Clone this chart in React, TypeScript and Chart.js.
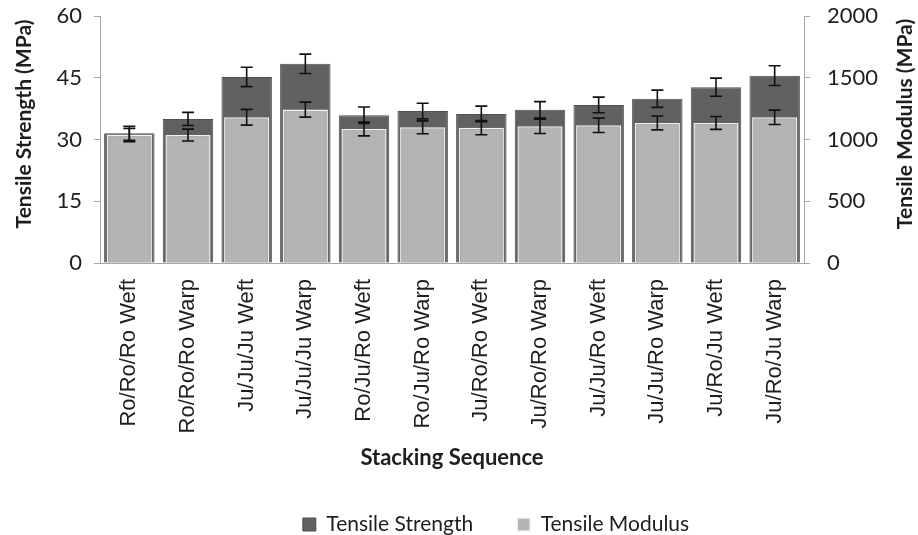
import React, { useEffect, useRef } from "react";
import { Chart, registerables } from "chart.js";

Chart.register(...registerables);

const categories = [
  "Ro/Ro/Ro Weft",
  "Ro/Ro/Ro Warp",
  "Ju/Ju/Ju Weft",
  "Ju/Ju/Ju Warp",
  "Ro/Ju/Ro Weft",
  "Ro/Ju/Ro Warp",
  "Ju/Ro/Ro Weft",
  "Ju/Ro/Ro Warp",
  "Ju/Ju/Ro Weft",
  "Ju/Ju/Ro Warp",
  "Ju/Ro/Ju Weft",
  "Ju/Ro/Ju Warp",
];
const strength = [31.5, 35.0, 45.2, 48.4, 35.9, 36.9, 36.2, 37.2, 38.4, 39.9, 42.7, 45.5];
const strengthErr = [1.7, 1.6, 2.35, 2.35, 2.0, 1.9, 1.9, 2.0, 1.9, 2.1, 2.2, 2.4];
const modulus = [1036, 1036, 1180, 1242, 1085, 1099, 1096, 1107, 1115, 1134, 1134, 1180];
const modulusErr = [53, 48, 64, 61, 56, 52, 57, 58, 58, 56, 52, 58];
const leftTicks = [0, 15, 30, 45, 60];
const rightTicks = [0, 500, 1000, 1500, 2000];
const leftTitle = "Tensile Strength (MPa)";
const rightTitle = "Tensile Modulus (MPa)";
const xTitle = "Stacking Sequence";

const FONT = "Lato, 'Open Sans', sans-serif";
const LABEL_FONT = "'Liberation Sans', Arial, sans-serif";
const AXIS_COLOR = "#a6a6a6";
const TEXT = "#1e1e1e";

const errorBarPlugin = {
  id: "errorBars",
  afterDatasetsDraw(chart: any) {
    const ctx = chart.ctx;
    const sets: [number[], number[], any, number][] = [
      [strength, strengthErr, chart.scales.y, 0],
      [modulus, modulusErr, chart.scales.y2, 1],
    ];
    ctx.save();
    ctx.strokeStyle = "#111111";
    ctx.lineWidth = 1.6;
    for (const [vals, errs, sc, di] of sets) {
      const meta = chart.getDatasetMeta(di);
      vals.forEach((v, i) => {
        const cx = meta.data[i].x;
        const top = sc.getPixelForValue(v + errs[i]);
        const bot = sc.getPixelForValue(v - errs[i]);
        ctx.beginPath();
        ctx.moveTo(cx, top);
        ctx.lineTo(cx, bot);
        ctx.moveTo(cx - 6, top);
        ctx.lineTo(cx + 6, top);
        ctx.moveTo(cx - 6, bot);
        ctx.lineTo(cx + 6, bot);
        ctx.stroke();
      });
    }
    ctx.restore();
  },
};

const axisTitlePlugin = {
  id: "axisTitles",
  afterLayout(chart: any) {
    if (chart.legend) {
      chart.legend.left += 37;
      chart.legend.right += 37;
    }
  },
  afterDraw(chart: any) {
    const ctx = chart.ctx;
    const cy = 124;
    const draw = (text: string, x: number) => {
      ctx.save();
      ctx.fillStyle = TEXT;
      ctx.font = `bold 21px ${FONT}`;
      ctx.textAlign = "center";
      ctx.textBaseline = "middle";
      ctx.translate(x, cy);
      ctx.rotate(-Math.PI / 2);
      ctx.fillText(text, 0, 0);
      ctx.restore();
    };
    draw(leftTitle, 24);
    draw(rightTitle, 905);
  },
};

export default function App() {
  const ref = useRef<HTMLCanvasElement | null>(null);
  useEffect(() => {
    if (!ref.current) return;
    const chart = new Chart(ref.current, {
      type: "bar",
      data: {
        labels: categories,
        datasets: [
          {
            label: "Tensile Strength",
            data: strength,
            yAxisID: "y",
            backgroundColor: "#616161",
            borderColor: "#505050",
            borderWidth: 1,
            grouped: false,
            barPercentage: 0.86,
            categoryPercentage: 1,
            order: 2,
          },
          {
            label: "Tensile Modulus",
            data: modulus,
            yAxisID: "y2",
            backgroundColor: "#b4b4b4",
            borderColor: "#f2f2f2",
            borderWidth: 1.5,
            grouped: false,
            barPercentage: 0.77,
            categoryPercentage: 1,
            order: 1,
          },
        ],
      },
      options: {
        animation: false,
        responsive: false,
        maintainAspectRatio: false,
        layout: { padding: { top: 16, bottom: -10, left: 0, right: 0 } },
        plugins: {
          tooltip: { enabled: false },
          legend: {
            position: "bottom",
            labels: {
              sort: (a: any, b: any) => a.datasetIndex - b.datasetIndex,
              boxWidth: 13,
              boxHeight: 13,
              padding: 44,
              color: TEXT,
              font: { family: FONT, size: 21 },
            },
          },
        },
        scales: {
          x: {
            grid: { display: false },
            border: { display: true, color: AXIS_COLOR },
            ticks: {
              minRotation: 90,
              maxRotation: 90,
              autoSkip: false,
              color: TEXT,
              padding: 8,
              font: { family: LABEL_FONT, size: 22 },
            },
            title: {
              display: true,
              text: xTitle,
              color: TEXT,
              font: { family: FONT, size: 22, weight: "bold" },
              padding: { top: 0, bottom: -1 },
            },
            afterFit: (s: any) => {
              const lh = s.chart.legend ? s.chart.legend.height : 0;
              s.height = s.chart.height + 10 - lh - 263;
              s.paddingLeft = 0;
              s.paddingRight = 0;
            },
          },
          y: {
            position: "left",
            min: 0,
            max: 60,
            afterBuildTicks: (s: any) => {
              s.ticks = leftTicks.map((v) => ({ value: v }));
            },
            grid: { drawOnChartArea: false, color: AXIS_COLOR, tickLength: 6 },
            border: { display: true, color: AXIS_COLOR },
            ticks: {
              color: TEXT,
              padding: 12,
              font: { family: FONT, size: 22 },
              callback: (v: any) => String(v),
            },
            afterFit: (s: any) => {
              s.width = 100;
              s.paddingTop = 0;
              s.paddingBottom = 0;
            },
          },
          y2: {
            position: "right",
            min: 0,
            max: 2000,
            afterBuildTicks: (s: any) => {
              s.ticks = rightTicks.map((v) => ({ value: v }));
            },
            grid: { drawOnChartArea: false, color: AXIS_COLOR, tickLength: 6 },
            border: { display: true, color: AXIS_COLOR },
            ticks: {
              color: TEXT,
              padding: 17,
              font: { family: FONT, size: 22 },
              callback: (v: any) => String(v),
            },
            afterFit: (s: any) => {
              s.width = 114;
              s.paddingTop = 0;
              s.paddingBottom = 0;
            },
          },
        },
      },
      plugins: [errorBarPlugin, axisTitlePlugin],
    } as any);
    return () => chart.destroy();
  }, []);
  return (
    <div style={{ position: "absolute", left: 0, top: 0, width: 918, height: 535, background: "#fff" }}>
      <canvas ref={ref} width={918} height={535} style={{ width: 918, height: 535, display: "block" }} />
    </div>
  );
}
